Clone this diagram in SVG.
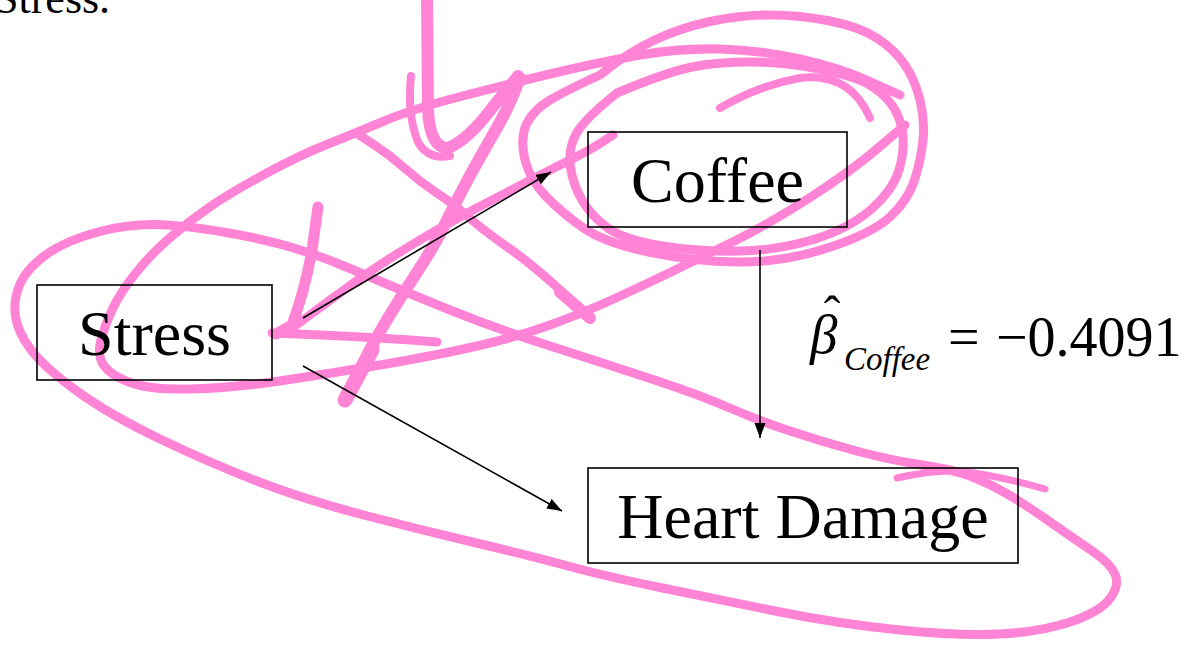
<svg xmlns="http://www.w3.org/2000/svg" width="1188" height="646" viewBox="0 0 1188 646">
<style>
.ink{fill:none;stroke:#FF84D6;stroke-linecap:round;stroke-linejoin:round}
.w8{stroke-width:8}
.w9{stroke-width:9}
.w12{stroke-width:12}
.box{fill:none;stroke:#000;stroke-width:1.6}
.lbl{font-family:"Liberation Serif","Times New Roman",serif;font-size:64px;fill:#000}
.eq{font-family:"Liberation Serif","Times New Roman",serif;fill:#000}
.conn{stroke:#000;stroke-width:1.6;fill:none}
</style>
<defs>
<marker id="ah" markerUnits="userSpaceOnUse" markerWidth="16" markerHeight="12" refX="15" refY="5.5" orient="auto">
<path d="M0,0 L15,5.5 L0,11 z" fill="#000"/>
</marker>
</defs>
<rect width="1188" height="646" fill="#fff"/>
<text class="eq" x="-6" y="13" font-size="44">Stress.</text>
<g id="scribbles">
<path class="ink w9" d="M250,237 Q200,227 166.5,225 Q133,223 100,231.5 Q67,240 47,254 Q27,268 20,284 Q13,300 15.5,316.5 Q18,333 31.5,350.5 Q45,368 77.5,391.5 Q110,415 160,439 Q210,463 258,481.5 Q306,500 363.5,515 Q421,530 478.5,543.5 Q536,557 568,566 Q600,575 660,587.5 Q720,600 780,612 Q840,624 900,630 Q960,636 1000,634 Q1040,632 1070,622 Q1100,612 1110,598.5 Q1120,585 1115,574 Q1110,563 1091.5,550.5 Q1073,538 1048,520.5 Q1023,503 1006.5,493.5 Q990,484 972.5,477 Q955,470 922.5,465 Q890,460 856.5,451 Q823,442 790,431 Q757,420 728.5,407.5 Q700,395 650,378.5 Q600,362 550,346 Q500,330 450,310 Q400,290 350,268.5 Q300,247 250,237"/>
<path class="ink w9" d="M900,95 L870,81.5 Q840,68 800,59 Q760,50 720,49 Q680,48 640,55 Q600,62 550,74 Q500,86 455,98 Q410,110 383,121.5 Q356,133 328,144 Q300,155 265,174 Q230,193 209,207.5 Q188,222 169,238.5 Q150,255 135,274 Q120,293 112.5,309 Q105,325 101,340 Q97,355 103.5,365 Q110,375 130,382.5 Q150,390 191.5,389 Q233,388 283,380.5 Q333,373 383,364.5 Q433,356 475,346.5 Q517,337 550,325 Q583,313 611.5,300 Q640,287 670,272.5 Q700,258 733.5,241.5 Q767,225 808.5,198.5 Q850,172 877.5,148.5 L905,125"/>
<path class="ink w9" d="M600,75 Q567,90 550,100 Q533,110 526,125 Q520,140 525,160 Q530,180 546,196.5 Q562,213 583.5,228 Q605,243 651,252.5 Q697,262 741,262 Q785,262 829,247.5 Q873,233 890.5,216.5 Q908,200 914.5,180 Q921,160 923,140 Q925,120 920,100 Q915,80 905,65 Q895,50 877.5,38.5 Q860,27 830,21 Q800,15 770,15 Q740,15 710,21.5 Q680,28 653.5,40.5 Q627,53 600,75"/>
<path class="ink w9" d="M617,93 Q583,120 575.5,135 Q568,150 570.5,167.5 Q573,185 582.5,201 Q592,217 608.5,228.5 Q625,240 662.5,246 Q700,252 740,251 Q780,250 815,239 Q850,228 871.5,209 Q893,190 899,170 Q905,150 902.5,132.5 Q900,115 890,102.5 Q880,90 865,82.5 Q850,75 816.5,68.5 Q783,62 750,62 Q717,62 692,67 Q667,72 617,93"/>
<path class="ink w8" d="M720,108 Q760,85 800,78 Q850,72 870,118"/>
<path class="ink w9" d="M287,332 L308.5,316 Q330,300 356.5,281 Q383,262 416.5,242 Q450,222 475,209 Q500,196 525,183 Q550,170 570,160 Q590,150 601.5,142.5 L613,135"/>
<path class="ink" stroke-width="11" d="M318,207 L312,250 Q305,290 292,325 L276,334"/>
<path class="ink w9" d="M272,333 Q360,336 437,342"/>
<path class="ink w9" d="M356,133 L373,144 Q390,155 405,168.5 Q420,182 437.5,193.5 Q455,205 469,217.5 Q483,230 508,247.5 Q533,265 560,290 L590,318"/>
<path class="ink" stroke-width="12" d="M560,292 L590,318"/>
<path class="ink w12" d="M520,78 L514,93 Q508,108 499,124 Q490,140 480,157.5 Q470,175 461,192.5 Q452,210 442.5,229 Q433,248 416.5,273 Q400,298 385,323 Q370,348 357.5,374 L345,400"/>
<path class="ink" stroke-width="15" d="M372,350 L345,400"/>
<path class="ink w12" d="M427,-5 L428,110 Q430,148 448,148 Q468,140 492,108 L518,76"/>
<path class="ink w8" d="M411,76 Q407,115 418,142 Q428,160 450,156"/>
<path class="ink" stroke-width="7" d="M897,478 Q930,470 960,471 Q1000,476 1045,489"/>
</g>
<g id="connectors">
<line class="conn" x1="303" y1="318" x2="551" y2="172" marker-end="url(#ah)"/>
<line class="conn" x1="303" y1="366" x2="562" y2="511" marker-end="url(#ah)"/>
<line class="conn" x1="760" y1="250" x2="760" y2="438" marker-end="url(#ah)"/>
</g>
<g id="node-stress">
<rect class="box" x="37" y="285" width="235" height="95"/>
<text class="lbl" x="154.5" y="355" text-anchor="middle">Stress</text>
</g>
<g id="node-coffee">
<rect class="box" x="588" y="132" width="259" height="95"/>
<text class="lbl" x="717.5" y="202" text-anchor="middle">Coffee</text>
</g>
<g id="node-heart">
<rect class="box" x="588" y="468" width="430" height="95"/>
<text class="lbl" x="803" y="538" text-anchor="middle">Heart Damage</text>
</g>
<g id="label-beta">
<text class="eq" x="810" y="353" font-size="55" font-style="italic">β</text>
<text class="eq" x="832" y="331" font-size="50" text-anchor="middle">ˆ</text>
<text class="eq" x="844" y="370" font-size="33" font-style="italic">Coffee</text>
<text class="eq" x="948" y="356" font-size="56">=</text>
<text class="eq" x="996" y="356" font-size="56">−0.4091</text>
</g>
</svg>
